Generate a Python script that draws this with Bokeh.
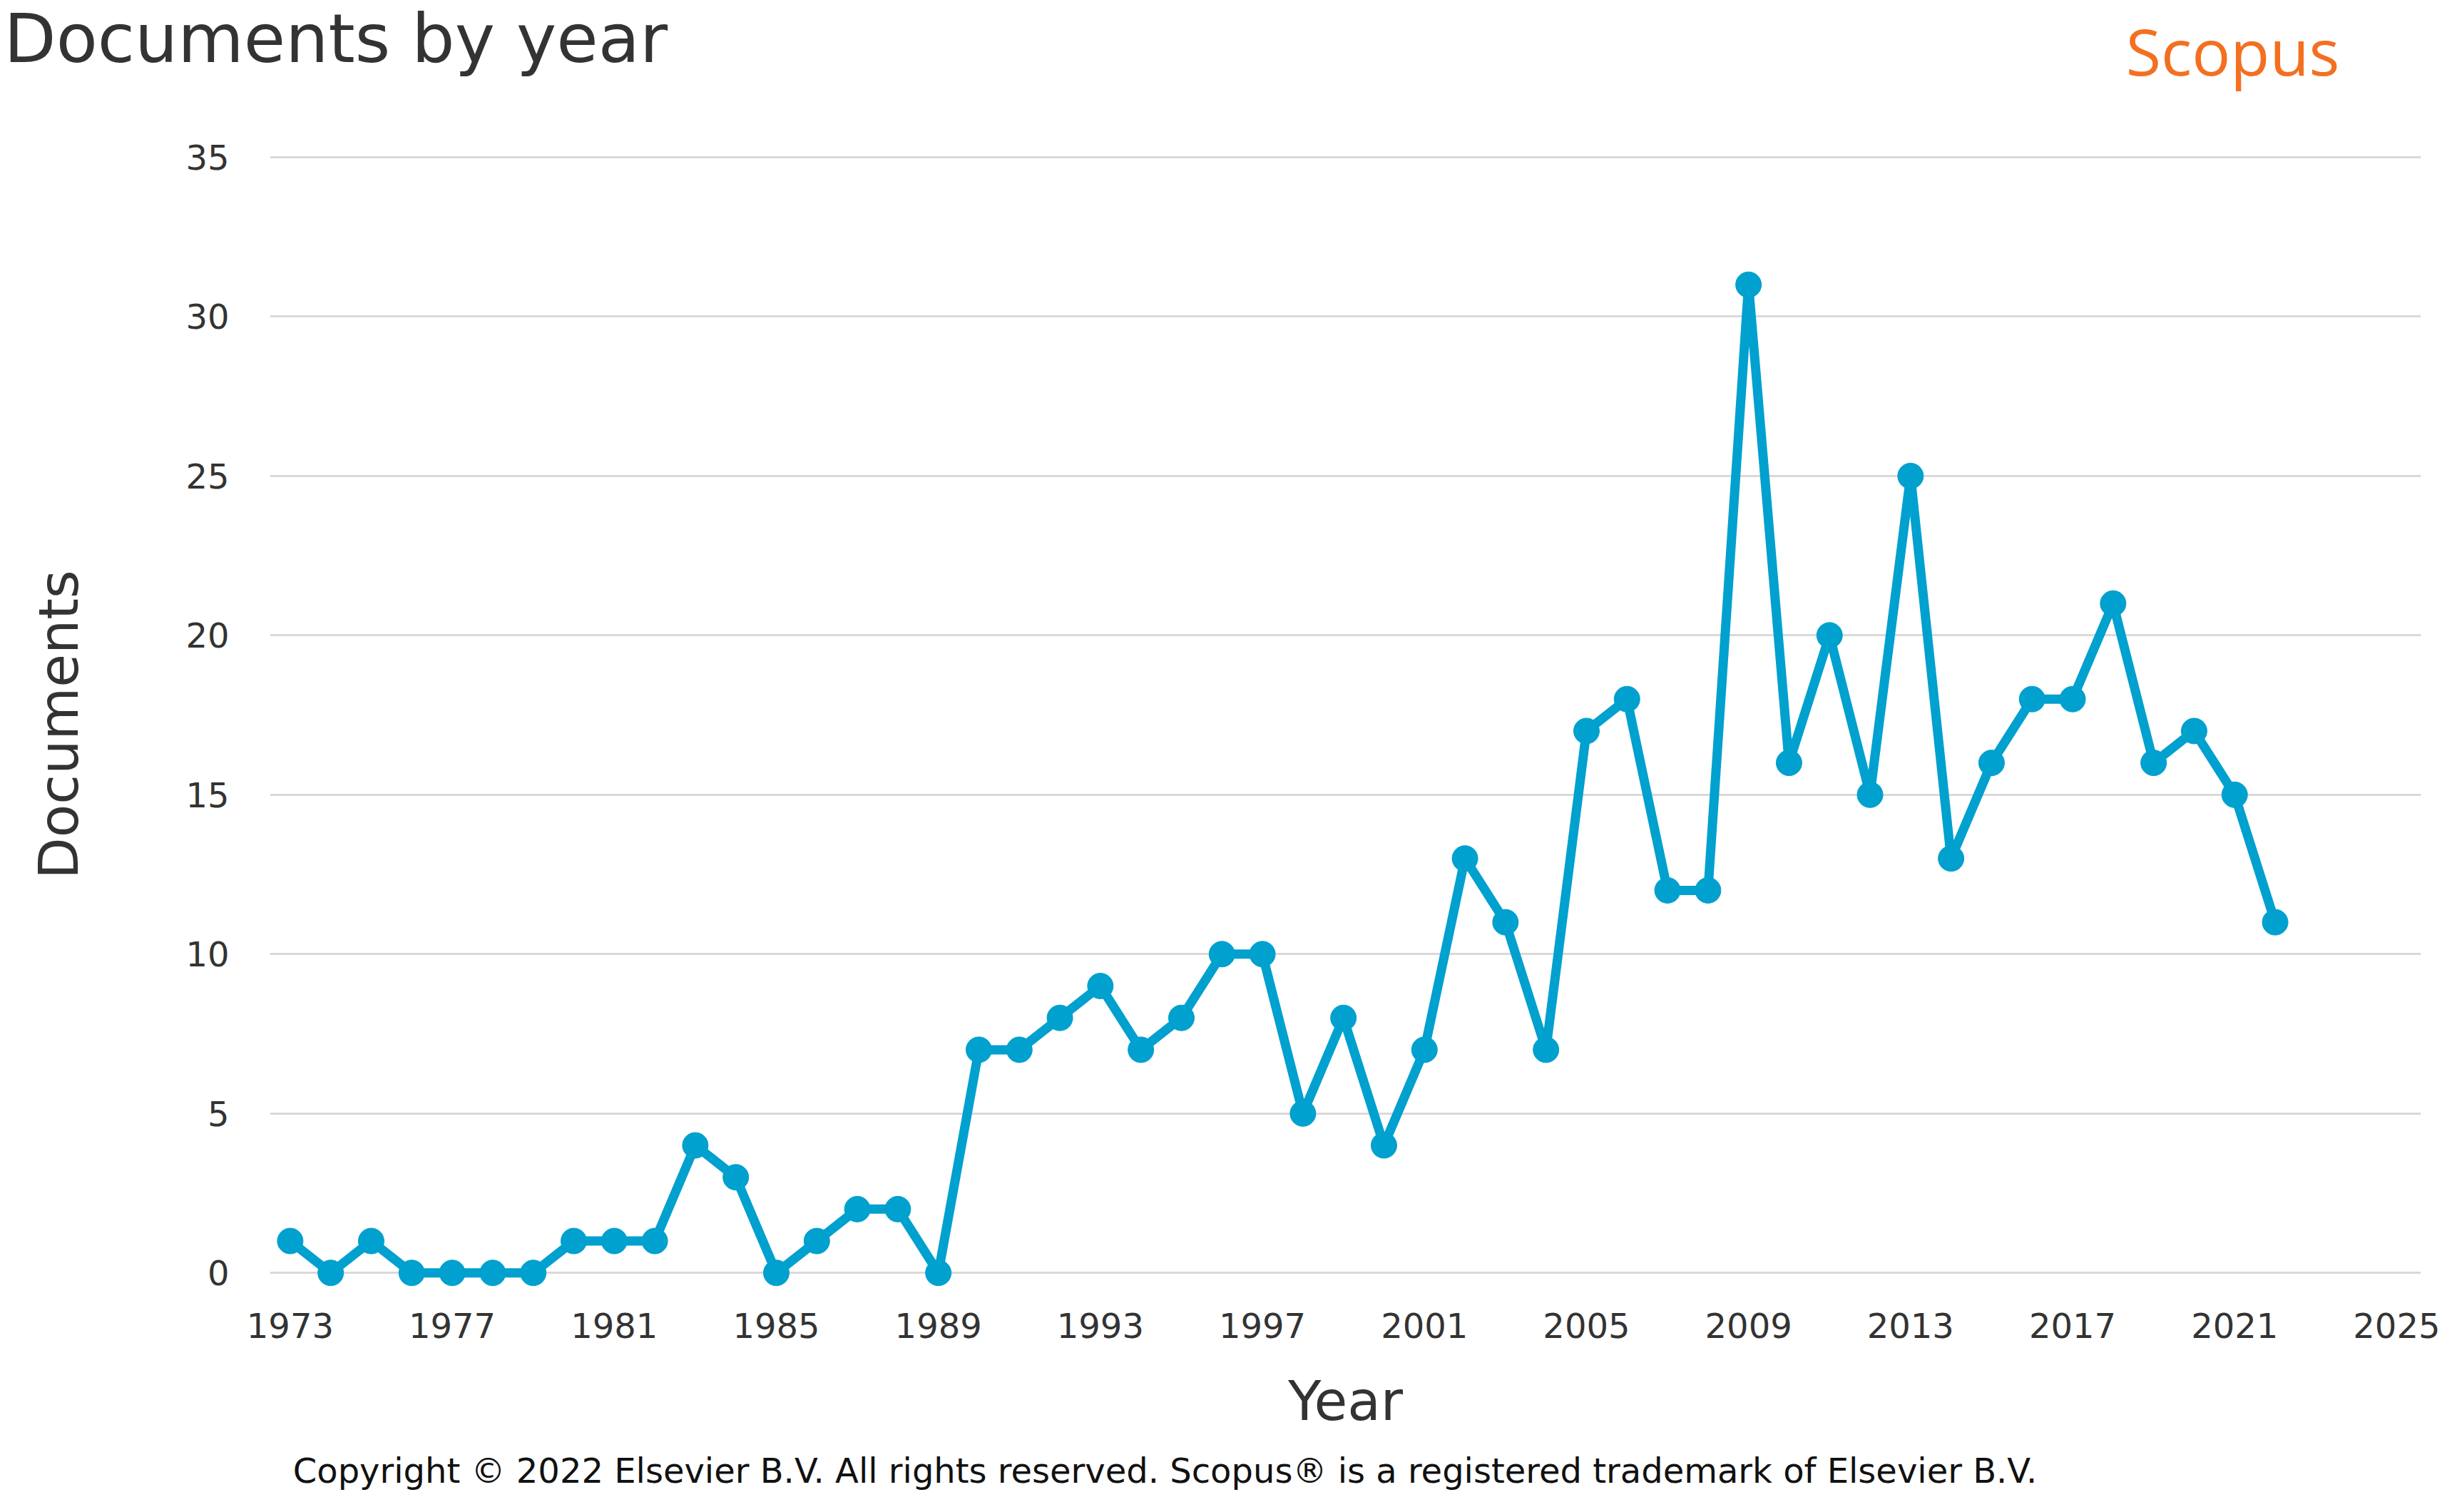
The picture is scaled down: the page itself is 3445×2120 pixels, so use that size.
from bokeh.plotting import figure
from bokeh.layouts import column
from bokeh.models import FixedTicker, Range1d
from bokeh.core.properties import value
from bokeh.embed import file_html
from bokeh.resources import INLINE

years = list(range(1973, 2023))
documents = [1, 0, 1, 0, 0, 0, 0, 1, 1, 1,
             4, 3, 0, 1, 2, 2, 0, 7, 7, 8,
             9, 7, 8, 10, 10, 5, 8, 4, 7, 13,
             11, 7, 17, 18, 12, 12, 31, 16, 20, 15,
             25, 13, 16, 18, 18, 21, 16, 17, 15, 11]
x_ticks = list(range(1973, 2026, 4))
y_ticks = [0, 5, 10, 15, 20, 25, 30, 35]

title_text = "Documents by year"
brand_text = "Scopus"
copyright_text = "Copyright \u00a9 2022 Elsevier B.V. All rights reserved. Scopus\u00ae is a registered trademark of Elsevier B.V."

LINE = "#00A0CF"
FONT = "DejaVu Sans"
W = 3429


def text_strip(height):
    f = figure(width=W, height=height, output_backend="svg", toolbar_location=None,
               x_range=Range1d(0, W), y_range=Range1d(0, height),
               min_border=0, min_border_left=0, min_border_right=0,
               min_border_top=0, min_border_bottom=0)
    f.frame_align = False
    f.axis.visible = False
    f.grid.visible = False
    f.outline_line_color = None
    return f


# header
HH = 180
header = text_strip(HH)
header.text(x=[5], y=[HH - 53], text=[title_text], text_font=value(FONT), text_font_size="95px",
            text_color="#333333", text_baseline="middle", text_align="left")
header.text(x=[3280], y=[HH - 70], text=[brand_text], text_font=value("Open Sans"), text_font_size="90px",
            text_color="#F37021", text_baseline="middle", text_align="right")

# main chart
p = figure(width=W, height=1840, output_backend="svg", toolbar_location=None,
           x_range=Range1d(1972.5, 2025.6), y_range=Range1d(-0.8, 35.2),
           min_border_left=378, min_border_right=35, min_border_top=31, min_border_bottom=200)
p.frame_align = False
p.outline_line_color = None

p.line(years, documents, line_color=LINE, line_width=13)
p.scatter(years, documents, size=36, fill_color=LINE, line_color=LINE)

p.xaxis.ticker = FixedTicker(ticks=x_ticks)
p.yaxis.ticker = FixedTicker(ticks=y_ticks)
for ax in (p.xaxis[0], p.yaxis[0]):
    ax.axis_line_color = None
    ax.major_tick_line_color = None
    ax.minor_tick_line_color = None
    ax.major_label_text_font = FONT
    ax.major_label_text_font_size = "48px"
    ax.major_label_text_color = "#333333"
    ax.axis_label_text_font = FONT
    ax.axis_label_text_font_size = "76px"
    ax.axis_label_text_font_style = "normal"
    ax.axis_label_text_color = "#333333"

p.xaxis.axis_label = "Year"
p.yaxis.axis_label = "Documents"
p.xaxis.major_label_standoff = 14
p.xaxis.axis_label_standoff = 41
p.yaxis.major_label_standoff = 51
p.yaxis.axis_label_standoff = 130

p.xgrid.grid_line_color = None
p.ygrid.grid_line_color = "#d9d9d9"
p.ygrid.grid_line_width = 3

# footer
FH = 90
footer = text_strip(FH)
footer.text(x=[1633], y=[FH - 41], text=[copyright_text], text_font=value(FONT), text_font_size="48px",
            text_color="#111111", text_baseline="middle", text_align="center")

layout = column(header, p, footer, spacing=0)
open("out.html", "w").write(file_html(layout, INLINE))
